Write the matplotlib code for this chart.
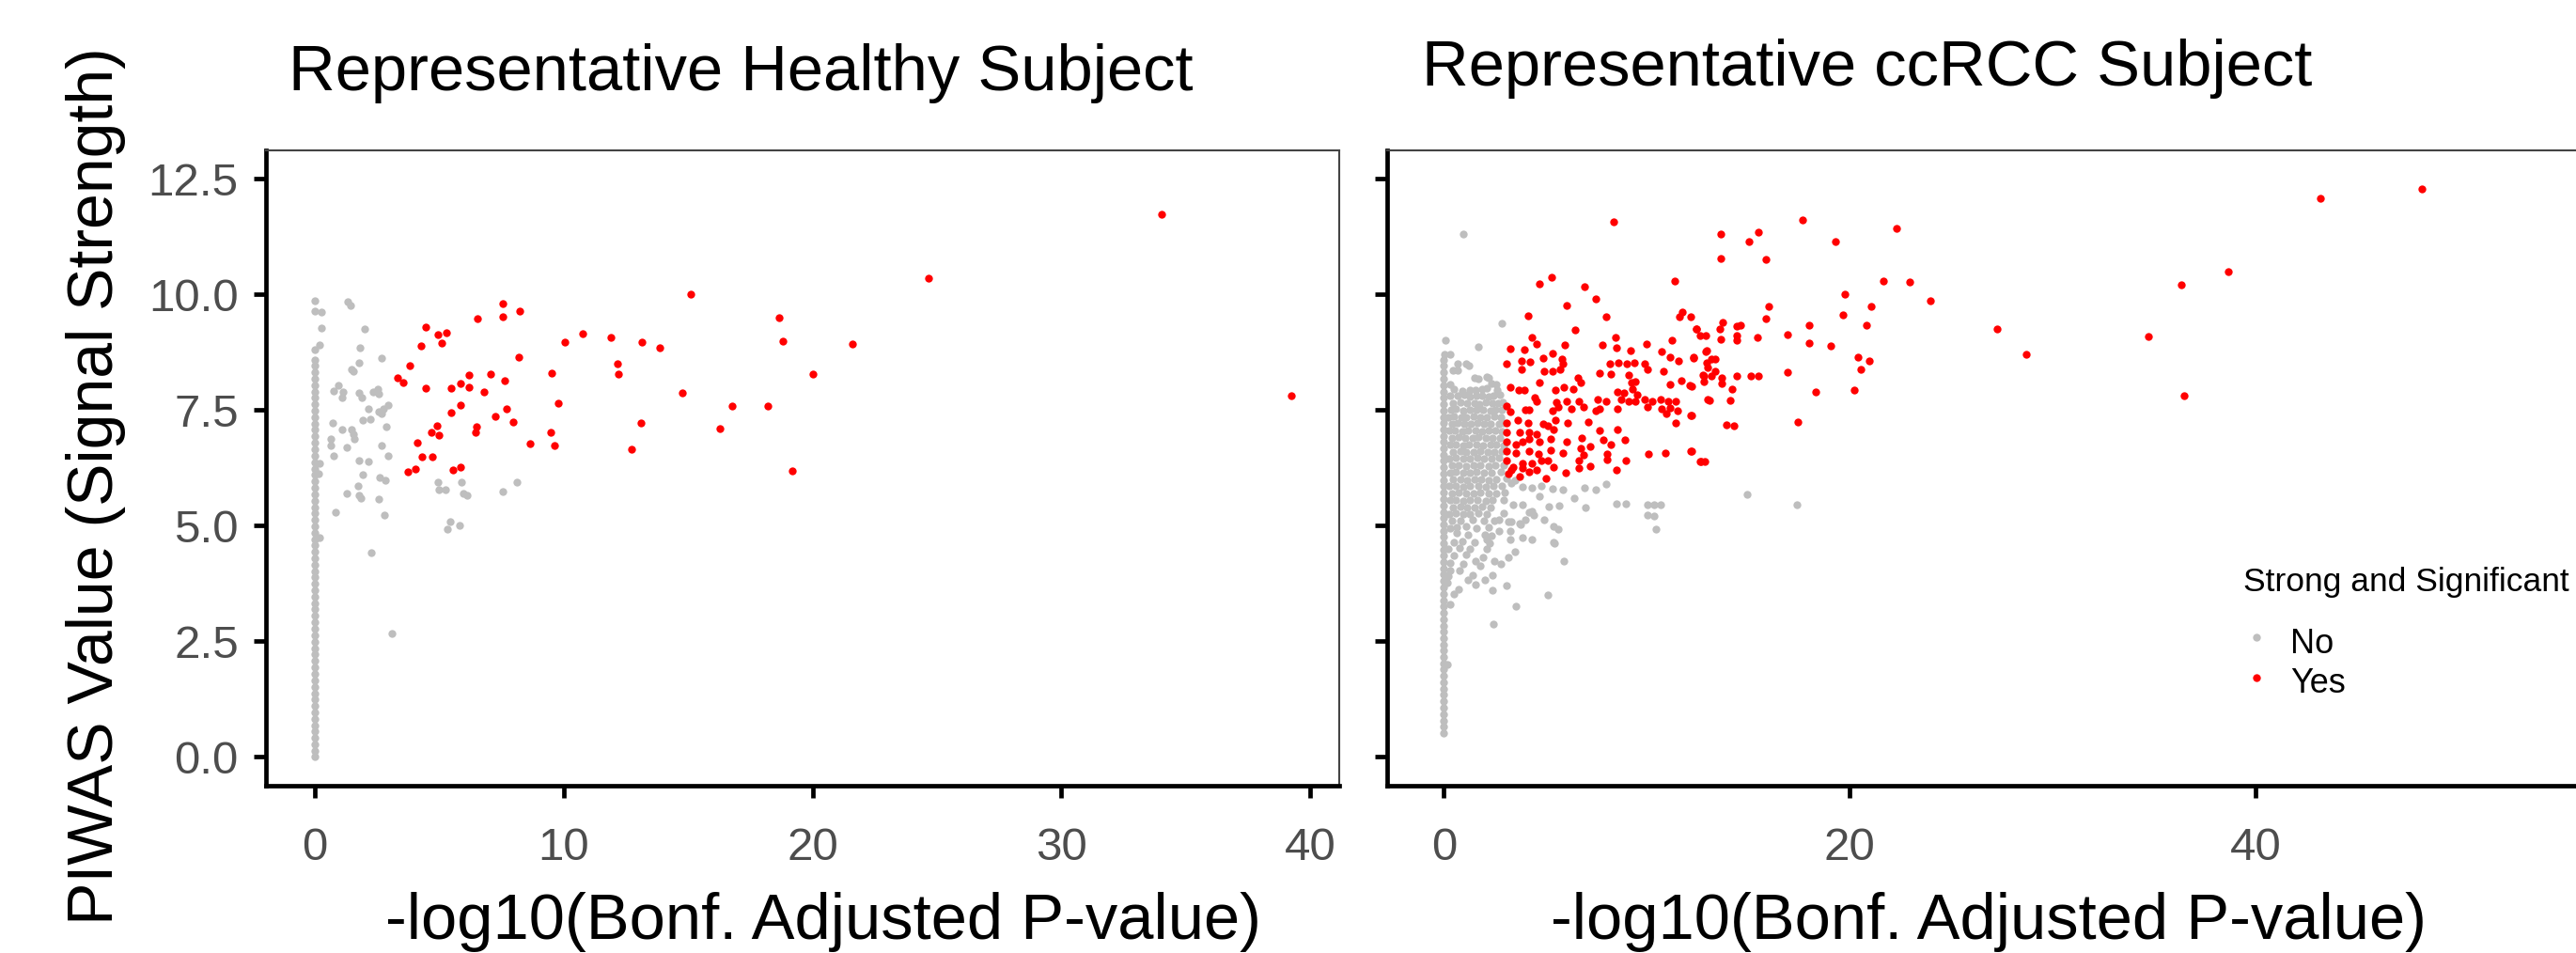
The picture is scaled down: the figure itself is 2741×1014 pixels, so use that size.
import matplotlib
matplotlib.use('Agg')
import matplotlib.pyplot as plt
from matplotlib import font_manager
from matplotlib.lines import Line2D

# ---- data ----
# Healthy subject: points stacked at -log10(p) = 0
healthy_col_y = [0.00, 0.14, 0.28, 0.41, 0.55, 0.69, 0.83, 0.97, 1.11, 1.25, 1.38, 1.52,
                 1.66, 1.80, 1.94, 2.08, 2.22, 2.35, 2.49, 2.63, 2.77, 2.91, 3.05, 3.19,
                 3.32, 3.46, 3.60, 3.74, 3.88, 4.02, 4.16, 4.29, 4.43, 4.57, 4.71, 4.85,
                 4.99, 5.13, 5.26, 5.40, 5.54, 5.68, 5.82, 5.96, 6.10, 6.23, 6.37, 6.51,
                 6.65, 6.79, 6.93, 7.07, 7.20, 7.34, 7.48, 7.62, 7.76, 7.90, 8.04, 8.17,
                 8.31, 8.45, 8.58]
healthy_col_x = [0.0] * len(healthy_col_y)

healthy_no = [(0.0, 9.86), (0.0, 9.64), (0.28, 9.62), (0.27, 9.27), (0.20, 8.90), (0.0, 8.81),
              (0.19, 6.34), (0.16, 6.12), (0.19, 4.74),
              (1.32, 9.85), (1.45, 9.76), (1.99, 9.25), (1.83, 8.84), (2.67, 8.62), (1.76, 8.51),
              (1.47, 8.37), (1.55, 8.34), (0.95, 8.03), (0.76, 7.91), (1.13, 7.90), (1.10, 7.77),
              (1.76, 7.86), (1.89, 7.77), (2.33, 7.90), (2.52, 7.95), (2.58, 7.84), (2.94, 7.61),
              (2.74, 7.52), (2.14, 7.52), (2.58, 7.47), (2.68, 7.42), (1.92, 7.29), (2.23, 7.30),
              (0.71, 7.22), (1.08, 7.08), (1.47, 7.08), (1.55, 6.98), (1.60, 6.88), (2.86, 7.14),
              (0.63, 6.88), (0.63, 6.73), (0.74, 6.51), (1.29, 6.69), (2.67, 6.73), (2.94, 6.51),
              (1.79, 6.41), (2.14, 6.38), (1.92, 6.10), (2.62, 6.05), (2.84, 5.99), (1.73, 5.85),
              (1.30, 5.69), (1.79, 5.66), (1.86, 5.59), (2.58, 5.57), (0.82, 5.29), (2.81, 5.23),
              (2.26, 4.42), (3.09, 2.68), (4.94, 5.95), (4.98, 5.78), (5.26, 5.78), (5.90, 5.95),
              (5.96, 5.70), (6.10, 5.65), (7.54, 5.74), (8.13, 5.95), (5.42, 5.09), (5.33, 4.92),
              (5.83, 5.01)]

healthy_yes = [(15.12, 10.00), (7.56, 9.80), (7.56, 9.51), (8.25, 9.64), (6.55, 9.47), (4.45, 9.30),
               (4.94, 9.13), (5.30, 9.17), (5.10, 8.95), (4.25, 8.89), (10.06, 8.96), (10.78, 9.14),
               (11.91, 9.07), (13.15, 8.96), (13.87, 8.85), (8.20, 8.64), (3.81, 8.45), (3.32, 8.19),
               (3.53, 8.10), (12.15, 8.50), (12.19, 8.27), (9.52, 8.29), (6.19, 8.26), (7.08, 8.28),
               (7.62, 8.13), (4.44, 7.98), (5.46, 7.97), (5.85, 8.07), (6.21, 7.99), (6.81, 7.90),
               (14.78, 7.88), (9.79, 7.65), (16.77, 7.59), (5.86, 7.61), (5.48, 7.44), (7.69, 7.53),
               (7.25, 7.37), (7.98, 7.24), (13.12, 7.23), (16.29, 7.09), (9.49, 7.02), (4.89, 7.15),
               (4.70, 7.02), (4.98, 6.95), (6.49, 7.13), (6.45, 7.02), (9.62, 6.73), (8.66, 6.77),
               (4.12, 6.80), (12.73, 6.66), (4.32, 6.49), (4.73, 6.49), (3.74, 6.17), (4.05, 6.22),
               (5.55, 6.20), (5.87, 6.27), (34.04, 11.73), (24.68, 10.35), (18.66, 9.49),
               (18.79, 8.99), (21.61, 8.92), (20.02, 8.27), (18.20, 7.59), (19.20, 6.18),
               (39.24, 7.81)]

# ccRCC subject
ccrcc_col_y = [0.52, 0.66, 0.79, 0.93, 1.07, 1.20, 1.34, 1.48, 1.61, 1.75, 1.89, 2.02,
               2.16, 2.30, 2.43, 2.57, 2.71, 2.84, 2.98, 3.12, 3.25, 3.39, 3.53, 3.66,
               3.80, 3.94, 4.07, 4.21, 4.35, 4.48, 4.62, 4.76, 4.89, 5.03, 5.17, 5.30,
               5.44, 5.58, 5.71, 5.85, 5.99, 6.12, 6.26, 6.40, 6.53, 6.67, 6.81, 6.94,
               7.08, 7.22, 7.35, 7.49, 7.63, 7.76, 7.90, 8.04, 8.17, 8.31, 8.45, 8.58]
ccrcc_col_x = [0.0] * len(ccrcc_col_y)

ccrcc_no = [(0.94, 11.30), (2.86, 9.37), (0.09, 9.00), (1.72, 8.86), (0.05, 8.70), (0.30, 8.70),
            (0.70, 8.50), (1.10, 8.50), (1.25, 8.45), (0.45, 8.35), (0.68, 8.35),
            (1.50, 8.20), (1.72, 8.17), (2.10, 8.22), (2.20, 8.20), (0.30, 8.05), (2.35, 8.08), (2.60, 8.05),
            (0.48, 7.95), (0.91, 7.91), (1.27, 7.94), (1.56, 7.93), (1.87, 7.96), (2.10, 7.98), (2.64, 7.94),
            (0.30, 7.80), (0.70, 7.80), (1.00, 7.82), (1.30, 7.78), (1.60, 7.80), (1.90, 7.81), (2.20, 7.79),
            (2.45, 7.80), (2.75, 7.83),
            (0.45, 7.65), (0.80, 7.66), (1.15, 7.64), (1.50, 7.65), (1.75, 7.63), (2.05, 7.66), (2.40, 7.65),
            (2.65, 7.64), (2.90, 7.66),
            (0.35, 7.50), (0.60, 7.52), (0.95, 7.49), (1.30, 7.50), (1.60, 7.51), (1.95, 7.50), (2.30, 7.48),
            (2.55, 7.50), (2.85, 7.51),
            (0.20, 7.35), (0.50, 7.36), (0.85, 7.34), (1.10, 7.35), (1.45, 7.36), (1.80, 7.34), (2.10, 7.35),
            (2.50, 7.36), (2.80, 7.34),
            (0.40, 7.20), (0.70, 7.21), (1.00, 7.19), (1.35, 7.20), (1.65, 7.21), (2.00, 7.20), (2.30, 7.19),
            (2.70, 7.20), (2.95, 7.22),
            (0.25, 7.05), (0.55, 7.06), (0.90, 7.04), (1.20, 7.05), (1.55, 7.06), (1.90, 7.04), (2.20, 7.05),
            (2.55, 7.06), (2.85, 7.04),
            (0.40, 6.90), (0.75, 6.91), (1.05, 6.89), (1.40, 6.90), (1.70, 6.91), (2.05, 6.90), (2.40, 6.89),
            (2.75, 6.90),
            (0.30, 6.75), (0.60, 6.76), (0.95, 6.74), (1.25, 6.75), (1.60, 6.76), (1.95, 6.74), (2.30, 6.75),
            (2.60, 6.76), (2.95, 6.74),
            (0.45, 6.60), (0.80, 6.61), (1.10, 6.59), (1.45, 6.60), (1.80, 6.61), (2.15, 6.59), (2.50, 6.60),
            (2.85, 6.61),
            (0.25, 6.45), (0.60, 6.46), (0.95, 6.44), (1.30, 6.45), (1.65, 6.46), (2.00, 6.44), (2.35, 6.45),
            (2.70, 6.46),
            (0.40, 6.30), (0.75, 6.31), (1.10, 6.29), (1.45, 6.30), (1.80, 6.31), (2.20, 6.29), (2.55, 6.30),
            (2.95, 6.31),
            (0.30, 6.15), (0.60, 6.16), (0.95, 6.14), (1.30, 6.15), (1.60, 6.16), (2.00, 6.14), (2.35, 6.15),
            (2.80, 6.16),
            (0.45, 6.00), (0.80, 6.01), (1.15, 5.99), (1.50, 6.00), (1.85, 6.01), (2.20, 5.99), (2.60, 6.00),
            (3.10, 6.02), (3.50, 5.98),
            (0.25, 5.85), (0.60, 5.86), (0.95, 5.84), (1.30, 5.85), (1.70, 5.86), (2.05, 5.84), (2.45, 5.85),
            (2.85, 5.86),
            (0.40, 5.70), (0.75, 5.71), (1.10, 5.69), (1.45, 5.70), (1.80, 5.71), (2.20, 5.69), (2.60, 5.70),
            (3.00, 5.71),
            (0.30, 5.55), (0.60, 5.56), (0.95, 5.54), (1.30, 5.55), (1.65, 5.56), (2.05, 5.54), (2.40, 5.55),
            (2.95, 5.56),
            (0.45, 5.40), (0.80, 5.41), (1.15, 5.39), (1.50, 5.40), (1.90, 5.41), (2.30, 5.39),
            (0.25, 5.25), (0.60, 5.26), (0.95, 5.24), (1.30, 5.25), (1.72, 5.26), (2.10, 5.24), (2.72, 5.12),
            (2.95, 5.26),
            (0.40, 5.10), (0.80, 5.11), (1.41, 5.12), (2.00, 5.10), (2.50, 5.11), (3.18, 5.09),
            (0.30, 4.95), (0.65, 4.96), (1.10, 4.98), (1.60, 4.95), (2.20, 4.96),
            (0.63, 4.85), (1.20, 4.80), (2.03, 4.81), (2.33, 4.78), (2.72, 4.88), (3.26, 4.88),
            (0.48, 4.65), (0.90, 4.66), (1.50, 4.64), (2.26, 4.61), (2.10, 4.71),
            (0.20, 4.50), (0.79, 4.51), (1.30, 4.50), (2.10, 4.49),
            (0.50, 4.35), (1.10, 4.38), (1.95, 4.31),
            (0.30, 4.20), (0.94, 4.17), (1.56, 4.24), (1.79, 4.14), (2.49, 4.24),
            (0.33, 4.04), (0.79, 4.04), (1.41, 3.93), (2.41, 3.93), (0.20, 3.90),
            (0.17, 3.77), (1.18, 3.83), (1.56, 3.73), (2.03, 3.83),
            (0.72, 3.63), (2.38, 3.60), (0.48, 3.53), (0.33, 3.29), (0.17, 2.01),
            (3.34, 5.93), (3.88, 5.83), (4.34, 5.81), (4.80, 5.86), (5.34, 5.80), (5.88, 5.78),
            (6.42, 5.59), (6.92, 5.81), (7.47, 5.78), (7.99, 5.89), (3.41, 5.46), (3.88, 5.46),
            (4.34, 5.32), (4.73, 5.63), (5.19, 5.42), (5.70, 5.44), (6.97, 5.40), (8.51, 5.47),
            (8.97, 5.47), (10.05, 5.46), (10.36, 5.46), (10.70, 5.46), (10.05, 5.22), (10.36, 5.20),
            (10.47, 4.92), (3.34, 5.09), (3.80, 5.02), (4.03, 5.12), (4.96, 5.12), (5.42, 4.98),
            (5.65, 4.92), (3.26, 4.71), (3.88, 4.75), (4.34, 4.71), (5.42, 4.65), (5.92, 4.24),
            (5.47, 4.61), (5.11, 3.51), (3.57, 3.26), (2.46, 2.87), (3.07, 3.71), (3.49, 4.44),
            (3.18, 4.31), (2.80, 4.17), (4.19, 5.29), (4.42, 5.22), (3.72, 5.05), (14.96, 5.68),
            (17.42, 5.46)]

ccrcc_yes = [(8.35, 11.57), (4.73, 10.22), (5.31, 10.36), (6.92, 10.17), (7.47, 9.91), (6.05, 9.76),
             (8.02, 9.51), (4.15, 9.54), (6.46, 9.24), (11.40, 10.28), (11.75, 9.62), (11.60, 9.51),
             (12.18, 9.51), (12.45, 9.26), (12.65, 9.10), (12.91, 9.10), (4.34, 9.06), (4.57, 8.92),
             (3.29, 8.83), (3.99, 8.81), (5.34, 8.73), (5.96, 8.91), (7.81, 8.91), (8.46, 9.06),
             (8.51, 8.84), (9.97, 8.92), (11.26, 9.01), (9.21, 8.78), (10.72, 8.76), (3.07, 8.49),
             (3.83, 8.56), (4.26, 8.54), (4.88, 8.63), (5.81, 8.61), (5.85, 8.49), (3.84, 8.37),
             (4.93, 8.34), (5.34, 8.34), (5.73, 8.37), (8.17, 8.49), (8.59, 8.52), (9.00, 8.49),
             (9.41, 8.52), (9.90, 8.49), (10.05, 8.37), (11.13, 8.64), (11.57, 8.56), (12.29, 8.63),
             (12.91, 8.77), (12.96, 8.52), (7.66, 8.29), (8.25, 8.27), (4.73, 8.10), (6.61, 8.20),
             (6.73, 8.10), (9.13, 8.25), (9.25, 8.10), (9.43, 8.11), (10.83, 8.34), (11.16, 8.05),
             (11.72, 8.13), (12.14, 8.03), (12.76, 8.25), (12.83, 8.11), (3.26, 8.00), (3.69, 7.93),
             (3.95, 7.93), (5.50, 7.93), (5.93, 8.00), (6.36, 7.96), (8.56, 7.89), (8.89, 7.86),
             (9.28, 7.96), (9.51, 7.83), (4.46, 7.76), (4.57, 7.69), (5.54, 7.66), (6.04, 7.69),
             (6.66, 7.69), (6.89, 7.56), (7.58, 7.73), (8.02, 7.69), (8.56, 7.52), (8.74, 7.73),
             (9.13, 7.69), (9.44, 7.69), (9.90, 7.73), (10.28, 7.69), (10.67, 7.73), (11.06, 7.69),
             (11.44, 7.69), (10.05, 7.56), (10.75, 7.52), (11.13, 7.54), (11.52, 7.49), (12.99, 7.73),
             (3.10, 7.59), (3.29, 7.46), (4.03, 7.50), (4.19, 7.50), (5.34, 7.49), (5.65, 7.56),
             (6.27, 7.52), (7.51, 7.49), (7.66, 7.52), (10.98, 7.42), (11.44, 7.22), (12.17, 7.39),
             (3.10, 7.21), (3.64, 7.29), (4.14, 7.21), (4.88, 7.19), (5.50, 7.29), (6.12, 7.21),
             (7.12, 7.25), (3.10, 7.02), (3.72, 7.02), (4.19, 7.02), (4.57, 6.98), (5.11, 7.15),
             (5.42, 7.08), (7.66, 7.05), (8.56, 7.08), (3.10, 6.81), (3.54, 6.76), (3.88, 6.81),
             (4.22, 6.88), (4.73, 6.81), (5.27, 6.88), (6.04, 6.81), (6.81, 6.89), (7.86, 6.85),
             (8.25, 6.76), (8.94, 6.85), (3.10, 6.61), (3.57, 6.58), (4.19, 6.61), (4.65, 6.54),
             (5.27, 6.64), (5.89, 6.58), (6.73, 6.68), (6.89, 6.53), (7.20, 6.71), (8.04, 6.54),
             (10.08, 6.54), (10.90, 6.58), (12.18, 6.61), (12.68, 6.39), (12.86, 6.39), (3.10, 6.41),
             (3.41, 6.27), (3.88, 6.34), (4.34, 6.34), (4.80, 6.41), (5.42, 6.27), (5.11, 6.41),
             (6.66, 6.41), (7.20, 6.29), (8.05, 6.42), (8.51, 6.20), (8.97, 6.41), (3.18, 6.13),
             (3.72, 6.07), (4.19, 6.17), (5.03, 6.03), (6.01, 6.15), (6.66, 6.24), (3.34, 6.20),
             (3.88, 6.24), (4.57, 6.20),
             (17.69, 11.61), (22.33, 11.42), (13.65, 11.30), (15.49, 11.34), (15.03, 11.13),
             (19.30, 11.15), (13.66, 10.78), (15.86, 10.76), (21.66, 10.29), (22.95, 10.26),
             (23.99, 9.86), (19.78, 10.00), (16.03, 9.74), (21.05, 9.74), (15.87, 9.48), (19.69, 9.55),
             (27.28, 9.26), (28.70, 8.71), (18.00, 9.33), (18.00, 8.94), (20.84, 9.33), (19.08, 8.88),
             (20.41, 8.65), (20.98, 8.57), (20.55, 8.38), (16.94, 9.12), (16.92, 8.32), (15.44, 9.07),
             (14.42, 9.32), (14.61, 9.33), (14.45, 9.10), (14.42, 9.01), (13.60, 9.26), (13.73, 9.39),
             (13.64, 9.03), (12.46, 9.26), (12.96, 8.78), (13.17, 8.61), (13.37, 8.61), (12.32, 8.64),
             (13.01, 8.42), (12.80, 8.24), (13.17, 8.24), (13.37, 8.34), (13.71, 8.20), (13.68, 8.07),
             (14.42, 8.23), (15.12, 8.23), (15.49, 8.23), (14.19, 7.95), (14.10, 7.71), (13.08, 7.71),
             (12.21, 8.02), (12.21, 7.39), (12.21, 6.61), (13.91, 7.18), (14.30, 7.15), (18.34, 7.90),
             (20.24, 7.94), (17.43, 7.24), (12.65, 6.39),
             (43.21, 12.08), (48.22, 12.27), (38.65, 10.50), (36.36, 10.20), (34.72, 9.09),
             (36.50, 7.81)]

y_ticks = [0.0, 2.5, 5.0, 7.5, 10.0, 12.5]
healthy_x_ticks = [0, 10, 20, 30, 40]
ccrcc_x_ticks = [0, 20, 40]
legend_labels = ['No', 'Yes']

GREY = '#bebebe'
RED = '#ff0000'

names = {f.name for f in font_manager.fontManager.ttflist}
narrow = 'Liberation Sans Narrow' in names
plt.rcParams['font.family'] = ['Liberation Sans', 'DejaVu Sans']
small_family = ['Liberation Sans Narrow', 'Liberation Sans'] if narrow else ['Liberation Sans']
tick_size = 42 if narrow else 35.5
leg_title_size = 31 if narrow else 25.5
leg_size = 30 if narrow else 26

W, H = 2741, 1014
fig = plt.figure(figsize=(W / 100, H / 100), dpi=100)

top_px, bot_px = 160, 836
ax1 = fig.add_axes([283 / W, 1 - bot_px / H, (1425 - 283) / W, (bot_px - top_px) / H])
ax2 = fig.add_axes([1476.4 / W, 1 - bot_px / H, (2795 - 1476.4) / W, (bot_px - top_px) / H])


def xy(pts):
    return [p[0] for p in pts], [p[1] for p in pts]


panels = [
    (ax1, healthy_col_x, healthy_col_y, healthy_no, healthy_yes, (-1.966, 41.17), healthy_x_ticks),
    (ax2, ccrcc_col_x, ccrcc_col_y, ccrcc_no, ccrcc_yes, (-2.774, 58.3), ccrcc_x_ticks),
]
for ax, cx, cy, no, yes, xlim, xt in panels:
    ax.scatter(cx, cy, s=36, color=GREY, linewidths=0, zorder=2)
    nx, ny = xy(no)
    ax.scatter(nx, ny, s=36, color=GREY, linewidths=0, zorder=2)
    yx, yy = xy(yes)
    ax.scatter(yx, yy, s=36, color=RED, linewidths=0, zorder=3)
    ax.set_xlim(*xlim)
    ax.set_ylim(-0.62, 13.11)
    ax.set_xticks(xt)
    ax.set_yticks(y_ticks)
    ax.set_xticklabels([str(t) for t in xt], family=small_family)
    ax.set_yticklabels(['%.1f' % t for t in y_ticks], family=small_family)
    for side in ['left', 'bottom']:
        ax.spines[side].set_linewidth(3.4)
        ax.spines[side].set_color('black')
        ax.spines[side].set_capstyle('projecting')
    for side in ['top', 'right']:
        ax.spines[side].set_linewidth(1.5)
        ax.spines[side].set_color('#444444')
    ax.tick_params(axis='both', length=9.5, width=3.4, color='black',
                   labelcolor='#4d4d4d', labelsize=tick_size)
    ax.tick_params(axis='x', pad=22)
    ax.tick_params(axis='y', pad=11.5)

ax2.tick_params(axis='y', labelleft=False)

# titles and axis labels
fig.text(788 / W, 1 - 96 / H, 'Representative Healthy Subject', ha='center', va='baseline', fontsize=49.5)
fig.text(1987 / W, 1 - 91 / H, 'Representative ccRCC Subject', ha='center', va='baseline', fontsize=49.5)
fig.text(876 / W, 1 - 999 / H, '-log10(Bonf. Adjusted P-value)', ha='center', va='baseline', fontsize=49.5)
fig.text(2116 / W, 1 - 999 / H, '-log10(Bonf. Adjusted P-value)', ha='center', va='baseline', fontsize=49.5)
fig.text(102 / W, 1 - 517 / H, 'PIWAS Value (Signal Strength)', rotation=90,
         ha='center', va='center', fontsize=49)

# legend
fig.text(2387 / W, 1 - 629 / H, 'Strong and Significant', ha='left', va='baseline',
         fontsize=leg_title_size, family=small_family)
for lab, col, ty, my in zip(legend_labels, [GREY, RED], [695, 737], [678, 721]):
    fig.add_artist(Line2D([2401 / W], [1 - my / H], transform=fig.transFigure, marker='o',
                          linestyle='', markersize=6, markerfacecolor=col, markeredgewidth=0))
    fig.text(2437 / W, 1 - ty / H, lab, ha='left', va='baseline', fontsize=leg_size, family=small_family)

fig.savefig('out.png', dpi=100)
